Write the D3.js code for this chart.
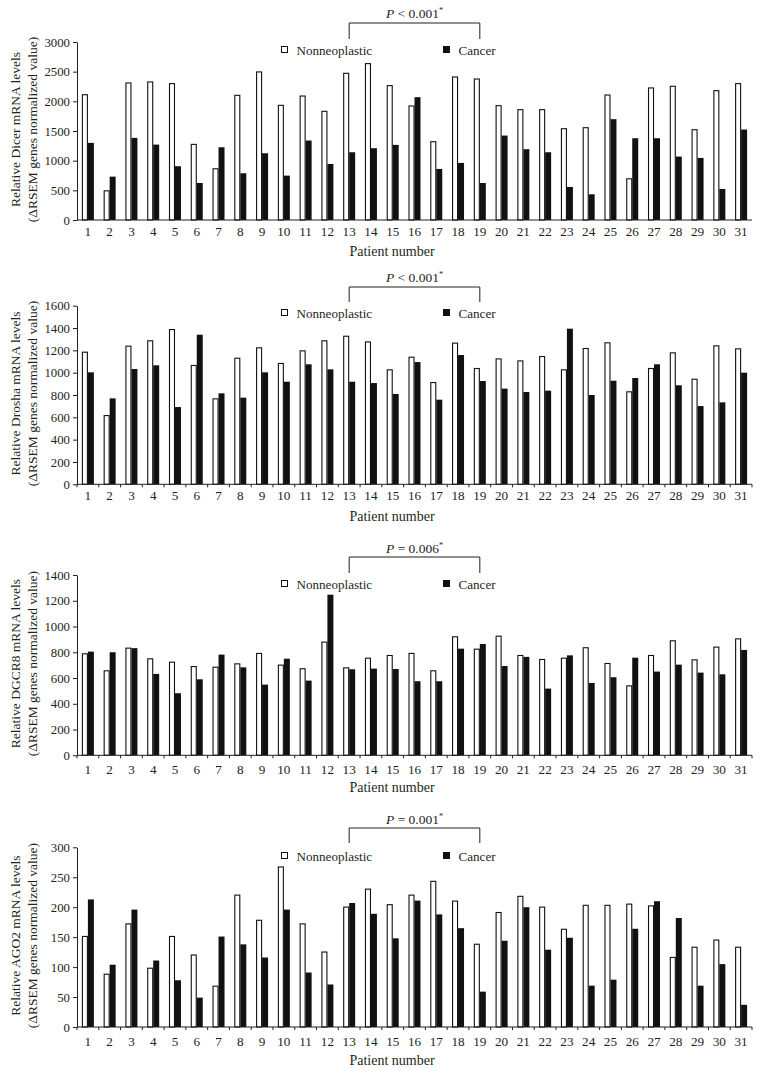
<!DOCTYPE html>
<html><head><meta charset="utf-8">
<script src="https://cdn.jsdelivr.net/npm/d3@7"></script>
<style>
body{margin:0;background:#fff;}
text{font-family:"Liberation Serif","DejaVu Serif",serif;fill:#231f20;}
</style></head>
<body><svg id="c" width="761" height="1073"></svg>
<script>
const patients = d3.range(1, 32).map(String);

const dicerNon = [2120,500,2318,2335,2307,1283,872,2110,2504,1941,2098,1840,2481,2644,2273,1930,1328,2419,2385,1935,1868,1868,1547,1564,2115,703,2234,2262,1530,2188,2307];
const dicerCan = [1300,731,1384,1271,906,624,1226,788,1125,748,1339,945,1142,1210,1266,2070,861,962,624,1423,1193,1142,557,433,1699,1378,1378,1069,1046,523,1525];

const droshaNon = [1188,620,1242,1290,1391,1069,770,1134,1227,1087,1200,1290,1331,1280,1030,1143,916,1269,1042,1128,1110,1149,1030,1221,1272,833,1042,1182,946,1245,1218];
const droshaCan = [1003,770,1033,1066,692,1340,815,776,1003,919,1075,1030,919,907,809,1095,758,1158,925,857,827,839,1394,800,928,952,1075,887,701,734,1000];

const dgcr8Non = [792,660,836,753,727,693,688,714,795,704,676,883,683,758,779,795,660,924,828,929,779,748,758,839,717,543,779,893,745,844,908];
const dgcr8Can = [805,800,832,632,482,590,782,683,549,750,580,1247,668,673,670,575,575,828,864,693,764,518,776,562,606,758,650,704,642,629,818];

const ago2Non = [152,89,173,99,152,121,69,221,179,268,173,126,201,231,205,221,244,211,139,192,219,201,164,204,204,206,203,117,134,146,134];
const ago2Can = [213,104,196,111,78,49,151,138,116,196,91,71,207,189,148,211,188,165,59,144,200,129,149,69,79,164,210,182,69,105,37];

const dicerTicks = [0,500,1000,1500,2000,2500,3000];
const droshaTicks = [0,200,400,600,800,1000,1200,1400,1600];
const dgcr8Ticks = [0,200,400,600,800,1000,1200,1400];
const ago2Ticks = [0,50,100,150,200,250,300];

const seriesNames = ["Nonneoplastic","Cancer"];
const xTitle = "Patient number";

const panels = [
  {gene:"Dicer", non:dicerNon, can:dicerCan, ticks:dicerTicks, top:42, bottom:220, p:["P"," < 0.001"], xticks:false, legendY:50, brTop:23, brBot:39, pY:18, tickLblY:236, titleY:256},
  {gene:"Drosha", non:droshaNon, can:droshaCan, ticks:droshaTicks, top:305.7, bottom:484.3, p:["P"," < 0.001"], xticks:true, legendY:313, brTop:287, brBot:302, pY:282, tickLblY:500, titleY:521},
  {gene:"DGCR8", non:dgcr8Non, can:dgcr8Can, ticks:dgcr8Ticks, top:575, bottom:755.3, p:["P"," = 0.006"], xticks:true, legendY:584, brTop:557, brBot:573, pY:553, tickLblY:774, titleY:792},
  {gene:"AGO2", non:ago2Non, can:ago2Can, ticks:ago2Ticks, top:847.3, bottom:1027, p:["P"," = 0.001"], xticks:true, legendY:856, brTop:828, brBot:843, pY:824, tickLblY:1046, titleY:1065}
];

const svg = d3.select("#c");
const left = 77, right = 752;
const x0 = d3.scaleBand().domain(patients).range([left, right]).paddingInner(0.45).paddingOuter(0.225);
const x1 = d3.scaleBand().domain(seriesNames).range([0, x0.bandwidth()]);
const step = x0.step();

panels.forEach(pn => {
  const g = svg.append("g");
  const maxV = pn.ticks[pn.ticks.length-1];
  const y = d3.scaleLinear().domain([0, maxV]).range([pn.bottom, pn.top]);

  const data = patients.map((p,i)=>({p, vals:[pn.non[i], pn.can[i]]}));
  const grp = g.selectAll("g.grp").data(data).join("g").attr("transform", d=>`translate(${x0(d.p)},0)`);
  grp.selectAll("rect").data(d=>d.vals.map((v,k)=>({k, v})))
    .join("rect")
    .attr("x", d=> x1(seriesNames[d.k]) + (d.k===0?0.5:0))
    .attr("y", d=> y(d.v) + (d.k===0?0.5:0))
    .attr("width", d=> x1.bandwidth() - (d.k===0?1:0))
    .attr("height", d=> pn.bottom - y(d.v) - (d.k===0?0.5:0))
    .attr("fill", d=> d.k===0 ? "#fff" : "#111")
    .attr("stroke", d=> d.k===0 ? "#111" : "none")
    .attr("stroke-width", 1.1);

  const ya = g.append("g").attr("transform", `translate(${left},0)`)
    .call(d3.axisLeft(y).tickValues(pn.ticks).tickFormat(d3.format("d")).tickSize(4).tickSizeOuter(0).tickPadding(3));
  ya.selectAll("text").attr("font-size", 12.8).attr("font-family","Liberation Serif").attr("fill","#231f20");
  ya.selectAll("line,path").attr("stroke","#231f20");

  g.append("line").attr("x1", left).attr("x2", right).attr("y1", pn.bottom).attr("y2", pn.bottom).attr("stroke","#231f20");
  if (pn.xticks) {
    const bounds = patients.map(p => x0(p) - step*x0.paddingInner()/2).concat([right]);
    g.selectAll("line.xt").data(bounds).join("line")
      .attr("x1", d=>d).attr("x2", d=>d).attr("y1", pn.bottom).attr("y2", pn.bottom+3).attr("stroke","#231f20");
  }
  g.selectAll("text.xl").data(patients).join("text")
    .attr("x", d=>x0(d)+x0.bandwidth()/2).attr("y", pn.tickLblY)
    .attr("text-anchor","middle").attr("font-size",13.2).text(d=>d);

  g.append("text").attr("x", 392).attr("y", pn.titleY).attr("text-anchor","middle").attr("font-size",14).text(xTitle);

  const cy = (pn.top + pn.bottom)/2 - 1.5;
  g.append("text").attr("transform", `translate(15,${cy}) rotate(-90)`).attr("text-anchor","middle").attr("dominant-baseline","central").attr("font-size",13.5)
    .text(`Relative ${pn.gene} mRNA levels`);
  g.append("text").attr("transform", `translate(32,${cy}) rotate(-90)`).attr("text-anchor","middle").attr("dominant-baseline","central").attr("font-size",13.5)
    .text("(\u0394RSEM genes normalized value)");

  const lx = [281, 443];
  seriesNames.forEach((s,k)=>{
    g.append("rect").attr("x", lx[k]+0.5).attr("y", pn.legendY-3.5).attr("width",6).attr("height",6)
      .attr("fill", k===0?"#fff":"#111").attr("stroke","#111").attr("stroke-width",1);
    g.append("text").attr("x", lx[k]+15.5).attr("y", pn.legendY).attr("dominant-baseline","central").attr("font-size",13.1).text(s);
  });

  const bx1 = x0("13") + x0.bandwidth()/2, bx2 = x0("19") + x0.bandwidth()/2;
  g.append("path").attr("d", `M${bx1},${pn.brBot}V${pn.brTop}H${bx2}V${pn.brBot}`).attr("fill","none").attr("stroke","#231f20");
  const pt = g.append("text").attr("x",(bx1+bx2)/2).attr("y",pn.pY).attr("text-anchor","middle").attr("font-size",13.5);
  pt.append("tspan").attr("font-style","italic").text(pn.p[0]);
  pt.append("tspan").text(pn.p[1]);
  pt.append("tspan").attr("font-size",8).attr("dy",-5).text("*");
});
</script></body></html>
